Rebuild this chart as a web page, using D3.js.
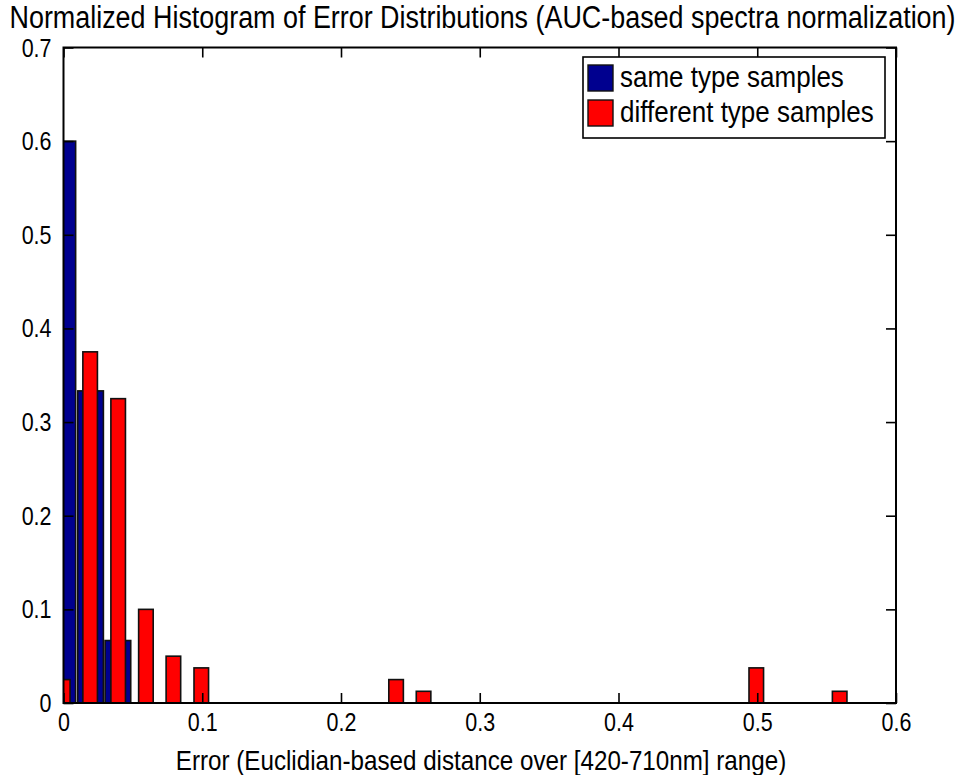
<!DOCTYPE html>
<html>
<head>
<meta charset="utf-8">
<script src="https://cdn.jsdelivr.net/npm/d3@7"></script>
<style>
  html, body { margin: 0; padding: 0; background: #fff; }
  svg { display: block; }
  text { font-family: "Liberation Sans", Arial, sans-serif; fill: #000; }
</style>
</head>
<body>
<svg id="chart" width="966" height="775"></svg>
<script>
// Bin centres and normalized counts for each group
const sameCenters = [-0.0005, 0.0195, 0.0392];
const sameValues  = [0.6, 0.3333, 0.0667];

const diffCenters = [-0.0005, 0.0192, 0.0394, 0.0594, 0.0792, 0.0993, 0.2397, 0.2595, 0.4993, 0.5594];
const diffValues  = [0.025, 0.375, 0.325, 0.1, 0.05, 0.0375, 0.025, 0.0125, 0.0375, 0.0125];

const xTicks = [0, 0.1, 0.2, 0.3, 0.4, 0.5, 0.6];
const yTicks = [0, 0.1, 0.2, 0.3, 0.4, 0.5, 0.6, 0.7];
const seriesNames = ["same type samples", "different type samples"];
const seriesColors = ["#00008f", "#ff0000"];

const titleText = "Normalized Histogram of Error Distributions (AUC-based spectra normalization)";
const xLabelText = "Error (Euclidian-based distance over [420-710nm] range)";

const svg = d3.select("#chart");
const plot = { left: 63.5, right: 896, top: 47.5, bottom: 703 };
const stretch = 1.17; // glyphs are drawn taller than wide

const x = d3.scaleLinear().domain([0, 0.6]).range([plot.left, plot.right]);
const y = d3.scaleLinear().domain([0, 0.7]).range([plot.bottom, plot.top]);

const sameWidth = 0.0185;
const diffWidth = 0.0105;

svg.append("clipPath").attr("id", "plotClip")
  .append("rect")
  .attr("x", plot.left).attr("y", plot.top)
  .attr("width", plot.right - plot.left).attr("height", plot.bottom - plot.top);

const bars = svg.append("g").attr("clip-path", "url(#plotClip)");

function drawBars(centers, values, width, color) {
  bars.append("g").selectAll("rect")
    .data(d3.zip(centers, values))
    .join("rect")
    .attr("x", d => x(d[0] - width / 2))
    .attr("width", d => x(d[0] + width / 2) - x(d[0] - width / 2))
    .attr("y", d => y(d[1]))
    .attr("height", d => y(0) - y(d[1]))
    .attr("fill", color)
    .attr("stroke", "#111")
    .attr("stroke-width", 1.6);
}
drawBars(sameCenters, sameValues, sameWidth, seriesColors[0]);
drawBars(diffCenters, diffValues, diffWidth, seriesColors[1]);

// Axes box with inward ticks on all four sides
const tickLen = 10;
const axisFont = "21.5px";

const gBottom = svg.append("g").attr("transform", `translate(0,${plot.bottom})`)
  .call(d3.axisBottom(x).tickValues(xTicks).tickFormat(d3.format("")).tickSize(-tickLen));
const gTop = svg.append("g").attr("transform", `translate(0,${plot.top})`)
  .call(d3.axisTop(x).tickValues(xTicks).tickFormat("").tickSize(-tickLen));
const gLeft = svg.append("g").attr("transform", `translate(${plot.left},0)`)
  .call(d3.axisLeft(y).tickValues(yTicks).tickFormat(d3.format("")).tickSize(-tickLen));
const gRight = svg.append("g").attr("transform", `translate(${plot.right},0)`)
  .call(d3.axisRight(y).tickValues(yTicks).tickFormat("").tickSize(-tickLen));

[gBottom, gTop, gLeft, gRight].forEach(g => {
  g.select(".domain").remove();
  g.selectAll(".tick line").attr("stroke", "#000").attr("stroke-width", 1.6);
  g.selectAll("text").style("font-size", axisFont).style("font-family", "Liberation Sans, Arial, sans-serif");
});
gBottom.selectAll("text")
  .attr("y", 0).attr("dy", null)
  .attr("transform", `translate(0,${28}) scale(1,${stretch})`);
gLeft.selectAll("text")
  .attr("x", 0).attr("dy", null)
  .attr("transform", `translate(-12,${8.5}) scale(1,${stretch})`);

svg.append("rect")
  .attr("x", plot.left).attr("y", plot.top)
  .attr("width", plot.right - plot.left).attr("height", plot.bottom - plot.top)
  .attr("fill", "none").attr("stroke", "#000").attr("stroke-width", 2);

// Title and x-axis label
function stretchedText(parent, tx, ty, size, str, anchor) {
  return parent.append("text")
    .attr("transform", `translate(${tx},${ty}) scale(1,${stretch})`)
    .attr("text-anchor", anchor || "start")
    .style("font-size", size)
    .text(str);
}
stretchedText(svg, 482.5, 28, "26.9px", titleText, "middle");
stretchedText(svg, 481, 770, "24.2px", xLabelText, "middle");

// Legend
const legend = svg.append("g");
legend.append("rect")
  .attr("x", 583).attr("y", 57).attr("width", 302).attr("height", 81)
  .attr("fill", "#fff").attr("stroke", "#000").attr("stroke-width", 1.6);

seriesNames.forEach((name, i) => {
  const top = 65 + i * 35;
  legend.append("rect")
    .attr("x", 588).attr("y", top).attr("width", 25).attr("height", 26)
    .attr("fill", seriesColors[i]).attr("stroke", "#111").attr("stroke-width", 1.4);
  stretchedText(legend, 620, top + 22, "26px", name);
});
</script>
</body>
</html>
